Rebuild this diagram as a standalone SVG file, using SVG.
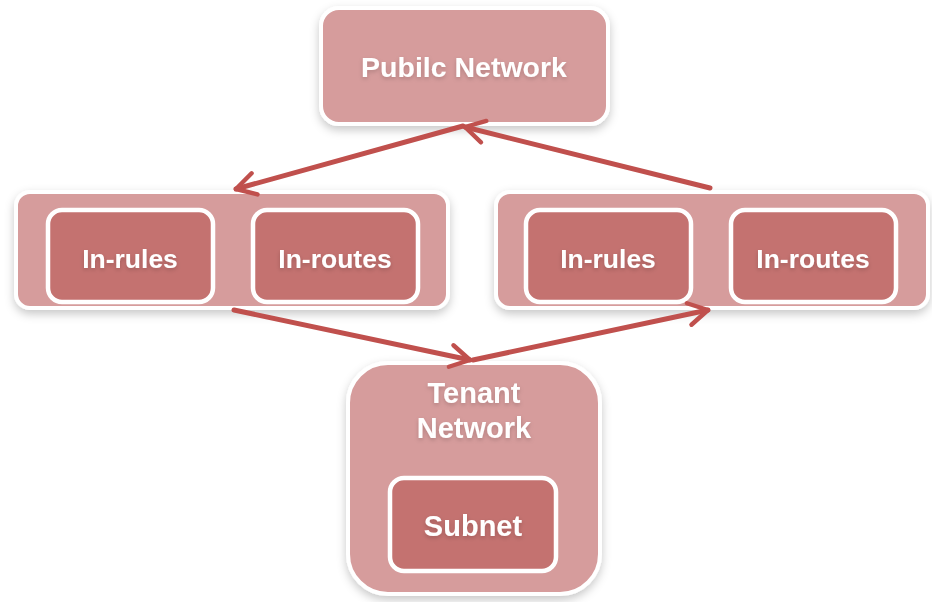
<svg xmlns="http://www.w3.org/2000/svg" width="932" height="602" viewBox="0 0 932 602">
<defs>
<filter id="sh" x="-20%" y="-20%" width="140%" height="150%">
<feDropShadow dx="0" dy="4" stdDeviation="5" flood-color="#000" flood-opacity="0.22"/>
</filter>
<filter id="tsh" x="-10%" y="-30%" width="120%" height="180%">
<feDropShadow dx="0" dy="2" stdDeviation="2" flood-color="#000" flood-opacity="0.18"/>
</filter>
<marker id="ah" viewBox="0 0 10 10" refX="8" refY="5" markerWidth="5.5" markerHeight="5.5" orient="auto" markerUnits="strokeWidth">
<path d="M1,1 L8,5 L1,9" fill="none" stroke="#C0504D" stroke-width="1.6" stroke-linecap="round" stroke-linejoin="round"/>
</marker>
</defs>
<style>
.outer{fill:#D69C9C;stroke:#fff;stroke-width:4;filter:url(#sh)}
.inner{fill:#C47270;stroke:#fff;stroke-width:4.5}
.t{font-family:"Liberation Sans",Arial,sans-serif;font-weight:bold;fill:#fff;text-anchor:middle;filter:url(#tsh)}
.c{stroke:#C0504D;stroke-width:5;fill:none;marker-end:url(#ah);stroke-linecap:round}
</style>
<rect width="932" height="602" fill="#fff"/>
<g id="public-network">
<rect class="outer" x="321" y="8" width="287" height="116" rx="18"/>
<text class="t" x="464" y="77" font-size="28.5">Pubilc Network</text>
</g>
<g id="left-router">
<rect class="outer" x="16" y="192" width="432" height="116" rx="14"/>
<g id="left-in-rules">
<rect class="inner" x="48" y="210" width="165" height="92" rx="14"/>
<text class="t" x="130" y="268" font-size="26.5">In-rules</text>
</g>
<g id="left-in-routes">
<rect class="inner" x="253" y="210" width="165" height="92" rx="14"/>
<text class="t" x="335" y="268" font-size="26.5">In-routes</text>
</g>
</g>
<g id="right-router">
<rect class="outer" x="496" y="192" width="432" height="116" rx="14"/>
<g id="right-in-rules">
<rect class="inner" x="526" y="210" width="165" height="92" rx="14"/>
<text class="t" x="608" y="268" font-size="26.5">In-rules</text>
</g>
<g id="right-in-routes">
<rect class="inner" x="731" y="210" width="165" height="92" rx="14"/>
<text class="t" x="813" y="268" font-size="26.5">In-routes</text>
</g>
</g>
<g id="tenant-network">
<rect class="outer" x="348" y="363" width="252" height="231" rx="40"/>
<text class="t" x="474" y="403" font-size="29">Tenant</text>
<text class="t" x="474" y="438" font-size="29">Network</text>
<g id="subnet">
<rect class="inner" x="390" y="478" width="166" height="93" rx="14"/>
<text class="t" x="473" y="536" font-size="29">Subnet</text>
</g>
</g>
<g id="connectors">
<line class="c" x1="463" y1="126" x2="236" y2="189"/>
<line class="c" x1="710" y1="188" x2="465" y2="127"/>
<line class="c" x1="234" y1="310" x2="470" y2="360"/>
<line class="c" x1="473" y1="360" x2="708" y2="310"/>
</g>
</svg>
